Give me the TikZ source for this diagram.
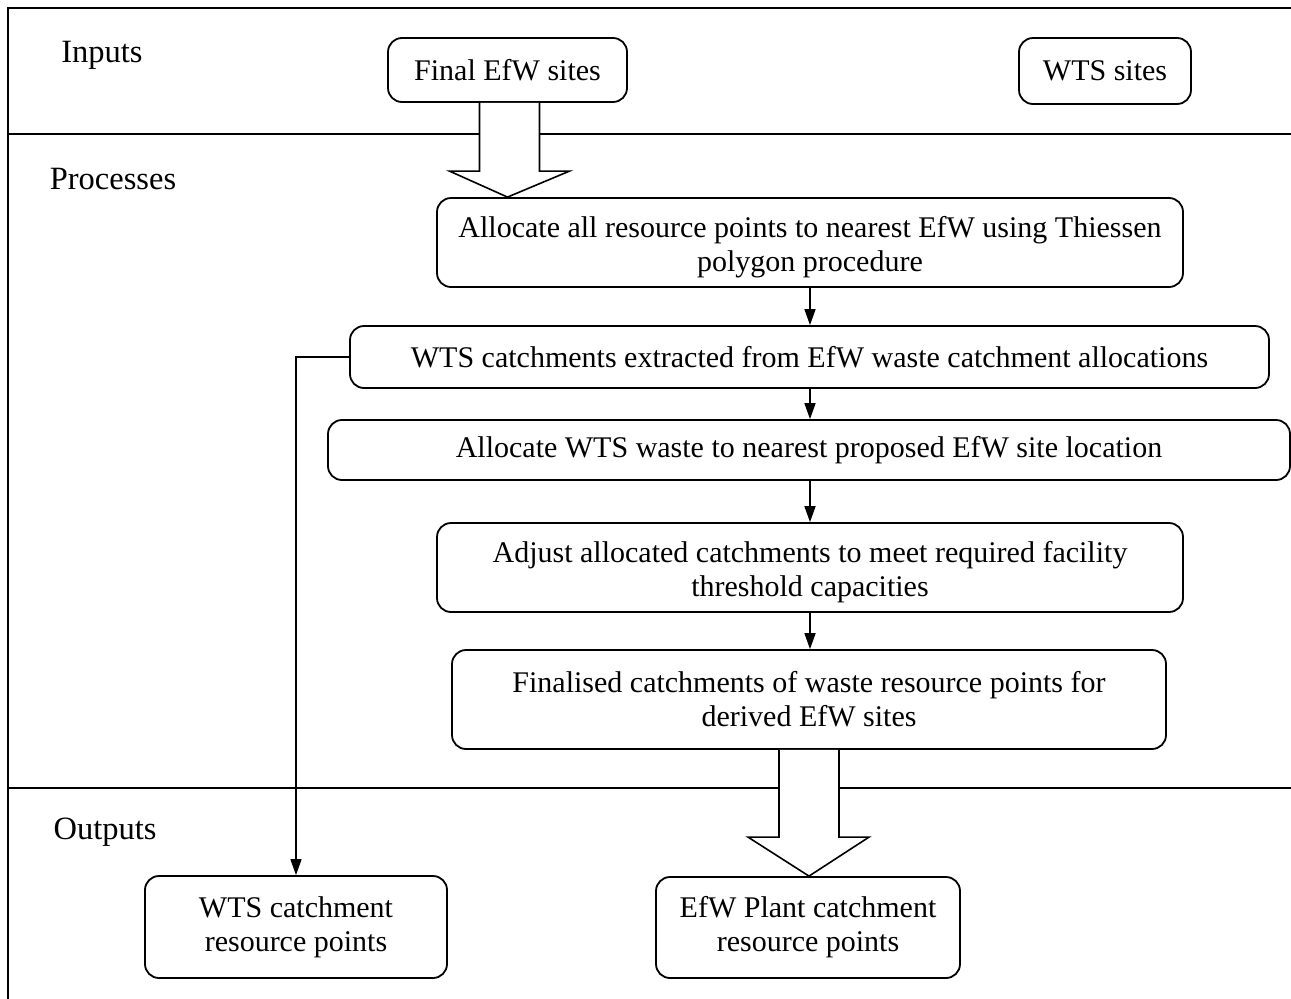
\documentclass[tikz,border=0pt]{standalone}
\usepackage{fontspec}
\setmainfont{Liberation Serif}
\usetikzlibrary{arrows.meta,calc}
\begin{document}
\begin{tikzpicture}[x=1pt,y=-1pt,
  box/.style={draw=black,line width=1.8pt,rounded corners=14pt,align=center,inner sep=0pt,
    font=\fontsize{30}{34}\selectfont},
  txt/.style={align=center,inner sep=0pt,font=\fontsize{30}{34}\selectfont},
  lbl/.style={font=\fontsize{32.5}{36}\selectfont,inner sep=0pt},
  frame/.style={line width=1.6pt},
  conn/.style={line width=1.6pt,-{Triangle[length=16pt,width=11pt]}},
  bigarrow/.style={draw=black,fill=white,line width=1.6pt,line join=miter}]
\useasboundingbox (0,0) rectangle (1291,999);
% frame
\draw[frame] (1291,8) -- (8,8) -- (8,999);
\draw[frame] (8,134) -- (1291,134);
\draw[frame] (8,788) -- (1291,788);
% labels
\node[lbl] (lin) at (102,55) {Inputs};
\node[lbl] (lpr) at (113,179) {Processes};
\node[lbl] (lout) at (105,832) {Outputs};
% boxes
\node[box,minimum width=239pt,minimum height=64pt] (fin) at (507.5,70) {Final EfW sites};
\node[box,minimum width=172pt,minimum height=66pt] (wts) at (1105,71) {WTS sites};
\node[box,minimum width=746pt,minimum height=89pt] (b1) at (810,242.5) {};
\node[txt] (b1t) at ([yshift=-5pt]b1.center) {Allocate all resource points to nearest EfW using Thiessen\\polygon procedure};
\node[box,minimum width=919pt,minimum height=62pt] (b2) at (809.5,357) {WTS catchments extracted from EfW waste catchment allocations};
\node[box,minimum width=962pt,minimum height=60pt] (b3) at (809,450) {Allocate WTS waste to nearest proposed EfW site location};
\node[box,minimum width=746pt,minimum height=89pt] (b4) at (810,567.5) {};
\node[txt] (b4t) at ([yshift=-5pt]b4.center) {Adjust allocated catchments to meet required facility\\threshold capacities};
\node[box,minimum width=714pt,minimum height=99pt] (b5) at (809,699.5) {Finalised catchments of waste resource points for\\derived EfW sites};
\node[box,minimum width=302pt,minimum height=102pt] (o1) at (296,927) {WTS catchment\\resource points};
\node[box,minimum width=304pt,minimum height=101pt] (o2) at (808,927.5) {EfW Plant catchment\\resource points};
% big arrows
\coordinate (t1) at (fin.south |- b1.north);
\draw[bigarrow] ([xshift=-28pt]fin.south) -- ([xshift=-28pt,yshift=26pt]t1) -- ([xshift=-58pt,yshift=26pt]t1)
  -- (t1) -- ([xshift=62pt,yshift=26pt]t1) -- ([xshift=32pt,yshift=26pt]t1) -- ([xshift=32pt]fin.south);
\coordinate (t2) at (b5.south |- o2.north);
\draw[bigarrow] ([xshift=-30pt]b5.south) -- ([xshift=-30pt,yshift=39pt]t2) -- ([xshift=-61pt,yshift=39pt]t2)
  -- (t2) -- ([xshift=60pt,yshift=39pt]t2) -- ([xshift=30pt,yshift=39pt]t2) -- ([xshift=30pt]b5.south);
% small arrows
\draw[conn] (b1.south) -- (b1.south |- b2.north);
\draw[conn] (b1.south |- b2.south) -- (b1.south |- b3.north);
\draw[conn] (b1.south |- b3.south) -- (b4.north);
\draw[conn] (b4.south) -- (b4.south |- b5.north);
\draw[conn] (b2.west) -| (o1.north);
\end{tikzpicture}
\end{document}
